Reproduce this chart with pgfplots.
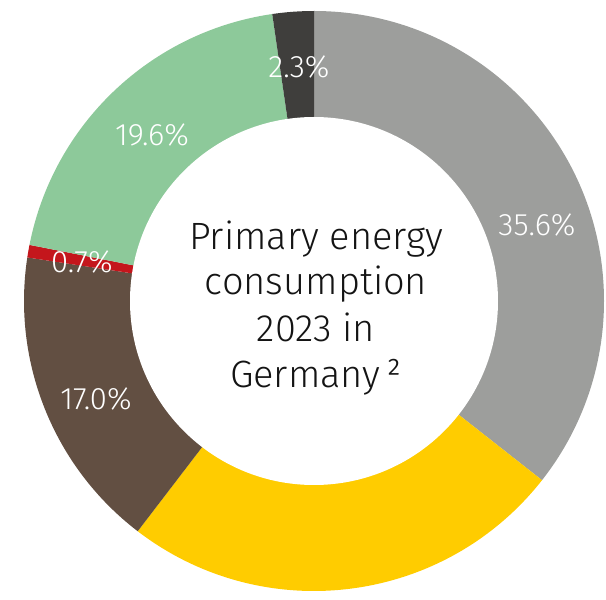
\documentclass[border=0pt]{standalone}
\usepackage{fontspec}
\IfFontExistsTF{Fira Sans Book}{\setmainfont{Fira Sans Book}}{\setmainfont{Fira Sans Light}}
\usepackage{pgfplots}
\usepackage{pgfplotstable}
\pgfplotsset{compat=1.18}
\definecolor{cGray}{HTML}{9D9E9C}
\definecolor{cYellow}{HTML}{FFCC00}
\definecolor{cBrown}{HTML}{624F42}
\definecolor{cRed}{HTML}{C4161C}
\definecolor{cGreen}{HTML}{8DC99A}
\definecolor{cDark}{HTML}{3F3E3C}
\pgfplotstableread{
share color
35.6 cGray
24.8 cYellow
17.0 cBrown
0.7 cRed
19.6 cGreen
2.3 cDark
}\sharetable
\pgfplotstableread{
x y label
537 375 35.6
299 533 2.3
152 465 19.6
82 338 0.7
96 201 17.0
}\labeltable
\begin{document}
\begin{tikzpicture}
\begin{axis}[
  x=1pt, y=1pt,
  xmin=0, xmax=606, ymin=0, ymax=600,
  hide axis, clip=false,
]
\coordinate (SW) at (axis cs:0,0);
\coordinate (NE) at (axis cs:606,600);
\def\startang{90}
\pgfplotsforeachungrouped \i in {0,...,5}{%
  \pgfplotstablegetelem{\i}{share}\of\sharetable \let\val\pgfplotsretval
  \pgfplotstablegetelem{\i}{color}\of\sharetable \let\col\pgfplotsretval
  \pgfmathsetmacro\endang{\startang-3.6*\val}%
  \edef\temp{\noexpand\fill[\col] (axis cs:314,299) -- ++(\startang:290pt) arc[start angle=\startang,end angle=\endang,radius=290pt] -- cycle;}%
  \temp
  \global\let\startang\endang
}
\fill[white] (axis cs:314,299) circle[radius=184pt];
\addplot[draw=none, mark=none, nodes near coords={\pgfplotspointmeta\%},
  point meta=explicit symbolic,
  every node near coord/.style={anchor=center, text=white, font=\fontsize{31}{31}\selectfont}]
  table[x=x, y=y, meta=label] {\labeltable};
\node[anchor=base, font=\fontsize{38}{46}\selectfont, text=black!92] at (axis cs:316,350) {Primary energy};
\node[anchor=base, font=\fontsize{38}{46}\selectfont, text=black!92] at (axis cs:316,305) {consumption};
\node[anchor=base, font=\fontsize{38}{46}\selectfont, text=black!92] at (axis cs:316,258) {2023 in};
\node[anchor=base, font=\fontsize{38}{46}\selectfont, text=black!92] at (axis cs:316,212) {Germany\,²};
\end{axis}
\pgfresetboundingbox
\path (SW) rectangle (NE);
\end{tikzpicture}
\end{document}
